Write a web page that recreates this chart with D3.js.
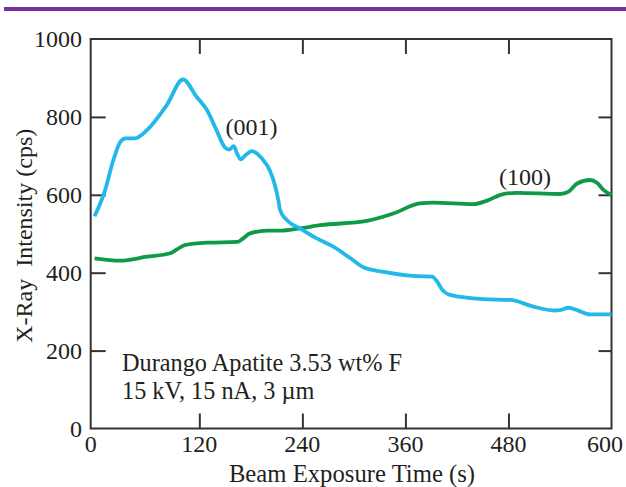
<!DOCTYPE html>
<html>
<head>
<meta charset="utf-8">
<script src="https://cdn.jsdelivr.net/npm/d3@7"></script>
<style>
  html, body { margin: 0; padding: 0; background: #fff; }
  svg { display: block; }
  text { font-family: "Liberation Serif", "Times New Roman", serif; fill: #231f20; }
</style>
</head>
<body>
<script>
// Beam exposure time (s) and X-ray intensity (cps) for the two orientations
const time001 = [-2, 10, 20, 28, 34, 45, 59, 82, 101, 117, 129, 140, 150, 155, 160, 164, 168, 174, 181, 193, 202, 208, 212, 214, 222, 237, 255, 276, 296, 311, 335, 373, 391, 397, 403, 412, 451, 482, 509, 533, 540, 550, 560, 575, 600];
const cps001  = [545, 610, 690, 736, 745, 745, 766, 830, 896, 851, 817, 766, 721, 716, 725, 706, 691, 702, 712, 693, 663, 625, 586, 561, 535, 514, 490, 467, 437, 414, 402, 391, 390, 377, 356, 343, 332, 330, 313, 303, 304, 310, 304, 293, 293];

const time100 = [-2, 28, 59, 86, 94, 103, 129, 164, 171, 179, 199, 214, 237, 261, 315, 346, 377, 393, 439, 455, 474, 490, 540, 550, 560, 575, 583, 591, 600];
const cps100  = [437, 431, 441, 450, 460, 471, 477, 479, 488, 501, 508, 508, 514, 522, 533, 552, 578, 580, 576, 585, 602, 605, 602, 608, 629, 638, 631, 612, 599];

const xTicks = [0, 120, 240, 360, 480, 600];
const yTicks = [0, 200, 400, 600, 800, 1000];

const seriesLabels = ["(001)", "(100)"];
const noteLines = ["Durango Apatite 3.53 wt% F", "15 kV, 15 nA, 3 \u00b5m"];
const xTitle = "Beam Exposure Time (s)";
const yTitle = "X-Ray\u00a0\u00a0Intensity (cps)";

const W = 626, H = 487;
const svg = d3.select("body").append("svg").attr("width", W).attr("height", H);

// header rule
svg.append("rect").attr("x", 4).attr("y", 7).attr("width", W - 4).attr("height", 4).attr("fill", "#7432a0");

const pL = 90.7, pR = 611.5, pT = 39, pB = 428.5;
const x = d3.scaleLinear().domain([-6.5, 600]).range([pL, pR]);
const y = d3.scaleLinear().domain([0, 1000]).range([pB, pT]);

const axisColor = "#333";
const tickLen = 15;

// frame
svg.append("rect").attr("x", pL).attr("y", pT).attr("width", pR - pL).attr("height", pB - pT)
  .attr("fill", "none").attr("stroke", axisColor).attr("stroke-width", 2);

// inner ticks on all four sides via d3 axes
const innerX = xTicks.filter(v => v > 0 && v < 600);
const innerY = yTicks.filter(v => v > 0 && v < 1000);
function styleAxis(g) {
  g.select(".domain").remove();
  g.selectAll(".tick line").attr("stroke", axisColor).attr("stroke-width", 2);
  g.selectAll(".tick text").remove();
}
svg.append("g").attr("transform", `translate(0,${pB})`)
  .call(d3.axisBottom(x).tickValues(innerX).tickSizeInner(-tickLen).tickSizeOuter(0)).call(styleAxis);
svg.append("g").attr("transform", `translate(0,${pT})`)
  .call(d3.axisTop(x).tickValues(innerX).tickSizeInner(-tickLen).tickSizeOuter(0)).call(styleAxis);
svg.append("g").attr("transform", `translate(${pL},0)`)
  .call(d3.axisLeft(y).tickValues(innerY).tickSizeInner(-tickLen).tickSizeOuter(0)).call(styleAxis);
svg.append("g").attr("transform", `translate(${pR},0)`)
  .call(d3.axisRight(y).tickValues(innerY).tickSizeInner(-13).tickSizeOuter(0)).call(styleAxis);

// tick labels
svg.append("g").selectAll("text").data(xTicks).join("text")
  .attr("x", d => d === 0 ? pL : Math.min(x(d), W - 21))
  .attr("y", 452)
  .attr("text-anchor", "middle")
  .attr("font-size", 24)
  .text(d => d);
svg.append("g").selectAll("text").data(yTicks).join("text")
  .attr("x", 82)
  .attr("y", d => y(d) + 8)
  .attr("text-anchor", "end")
  .attr("font-size", 24)
  .text(d => d);

// axis titles
svg.append("text").attr("x", 352).attr("y", 482)
  .attr("text-anchor", "middle").attr("font-size", 24.7).text(xTitle);
svg.append("text").attr("transform", `translate(32,${(pT + pB) / 2 + 2}) rotate(-90)`)
  .attr("text-anchor", "middle").attr("font-size", 24).text(yTitle);

// curves
const line = d3.line().x(d => x(d[0])).y(d => y(d[1])).curve(d3.curveMonotoneX);
svg.append("path").datum(d3.zip(time100, cps100)).attr("d", line)
  .attr("fill", "none").attr("stroke", "#0f9a4a").attr("stroke-width", 3.8).attr("stroke-linejoin", "round");
svg.append("path").datum(d3.zip(time001, cps001)).attr("d", line)
  .attr("fill", "none").attr("stroke", "#22b8ea").attr("stroke-width", 3.8).attr("stroke-linejoin", "round");

// series labels
svg.append("text").attr("x", 251.5).attr("y", 135).attr("text-anchor", "middle").attr("font-size", 24).text(seriesLabels[0]);
svg.append("text").attr("x", 525).attr("y", 185).attr("text-anchor", "middle").attr("font-size", 24).text(seriesLabels[1]);

// sample note
svg.append("g").selectAll("text").data(noteLines).join("text")
  .attr("x", 122).attr("y", (d, i) => 371 + i * 28)
  .attr("font-size", 24.3).text(d => d);
</script>
</body>
</html>
